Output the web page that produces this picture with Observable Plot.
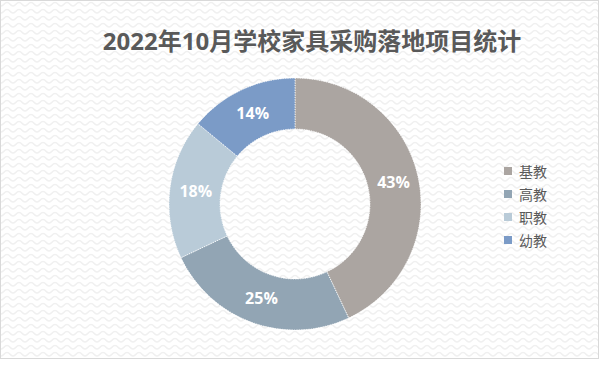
<!DOCTYPE html>
<html><head><meta charset="utf-8">
<script src="https://cdn.jsdelivr.net/npm/d3@7"></script>
<script src="https://cdn.jsdelivr.net/npm/@observablehq/plot@0.6"></script>
<style>
body{margin:0;background:#fff;width:600px;height:371px;overflow:hidden;position:relative;}
#frame{position:absolute;left:0;top:0;width:597px;height:357px;border:1px solid #d9d9d9;
background-color:#fff;
background-image:url("data:image/svg+xml,%3Csvg xmlns='http://www.w3.org/2000/svg' width='12' height='7'%3E%3Cpath d='M0 5 C3 5 3 1.5 6 1.5 C9 1.5 9 5 12 5' fill='none' stroke='%23f0f0f0' stroke-width='1.6'/%3E%3C/svg%3E");}
#title{position:absolute;left:12px;width:600px;top:29px;line-height:24px;text-align:center;font-weight:bold;font-size:24px;font-family:"Open Sans","Noto Sans CJK SC",sans-serif;color:#595959;}
#chart{position:absolute;left:0;top:0;}
#legend{position:absolute;left:504px;top:161px;}
#legend > div > div{margin-bottom:2px;}
</style></head>
<body>
<div id="frame"></div>
<div id="title">2022年10月学校家具采购落地项目统计</div>
<div id="chart"></div>
<div id="legend"></div>
<script>
const categories = ["基教", "高教", "职教", "幼教"];
const shares = [43, 25, 18, 14];
const colors = ["#aba5a1", "#92a5b4", "#b9cbd8", "#7b9bc7"];

const data = categories.map((name, i) => ({name, value: shares[i]}));
const innerRatio = 75 / 126;
const arcs = d3.pie().sort(null).value(d => d.value)(data);
const unitArc = d3.arc().innerRadius(innerRatio).outerRadius(1);
const labels = arcs.map(a => {
  const [cx, cy] = unitArc.centroid(a);
  return {name: a.data.name, text: a.data.value + "%", x: cx, y: -cy};
});

const donut = (index, scales) => {
  const cx = scales.x(0), cy = scales.y(0);
  const R = scales.x(1) - scales.x(0);
  const arc = d3.arc().innerRadius(R * innerRatio).outerRadius(R);
  const g = d3.create("svg:g").attr("transform", `translate(${cx},${cy})`);
  g.selectAll("path").data(arcs).join("path")
    .attr("d", arc)
    .attr("fill", d => scales.color(d.data.name))
    .attr("stroke", "#ffffff")
    .attr("stroke-width", 0.8)
    .attr("stroke-dasharray", "1.2,1.2");
  return g.node();
};

const chart = Plot.plot({
  width: 600,
  height: 371,
  marginLeft: 169,
  marginRight: 179,
  marginTop: 78,
  marginBottom: 41,
  x: {domain: [-1, 1], axis: null},
  y: {domain: [-1, 1], axis: null},
  color: {domain: categories, range: colors},
  style: {background: "transparent", overflow: "visible"},
  marks: [
    Plot.dot(data, {x: 0, y: 0, r: 0, fill: "name"}),
    donut,
    Plot.text(labels, {x: "x", y: "y", text: "text", fill: "#ffffff", fontSize: 16, fontWeight: "bold",
      fontFamily: "'Open Sans','Noto Sans CJK SC',sans-serif"})
  ]
});
document.getElementById("chart").append(chart);

const legend = Plot.legend({
  color: {domain: categories, range: colors},
  legend: "swatches",
  columns: 1,
  swatchSize: 8,
  style: {fontSize: "14px", fontFamily: "'Noto Sans CJK SC',sans-serif", color: "#595959", background: "transparent"}
});
document.getElementById("legend").append(legend);
</script>
</body></html>
